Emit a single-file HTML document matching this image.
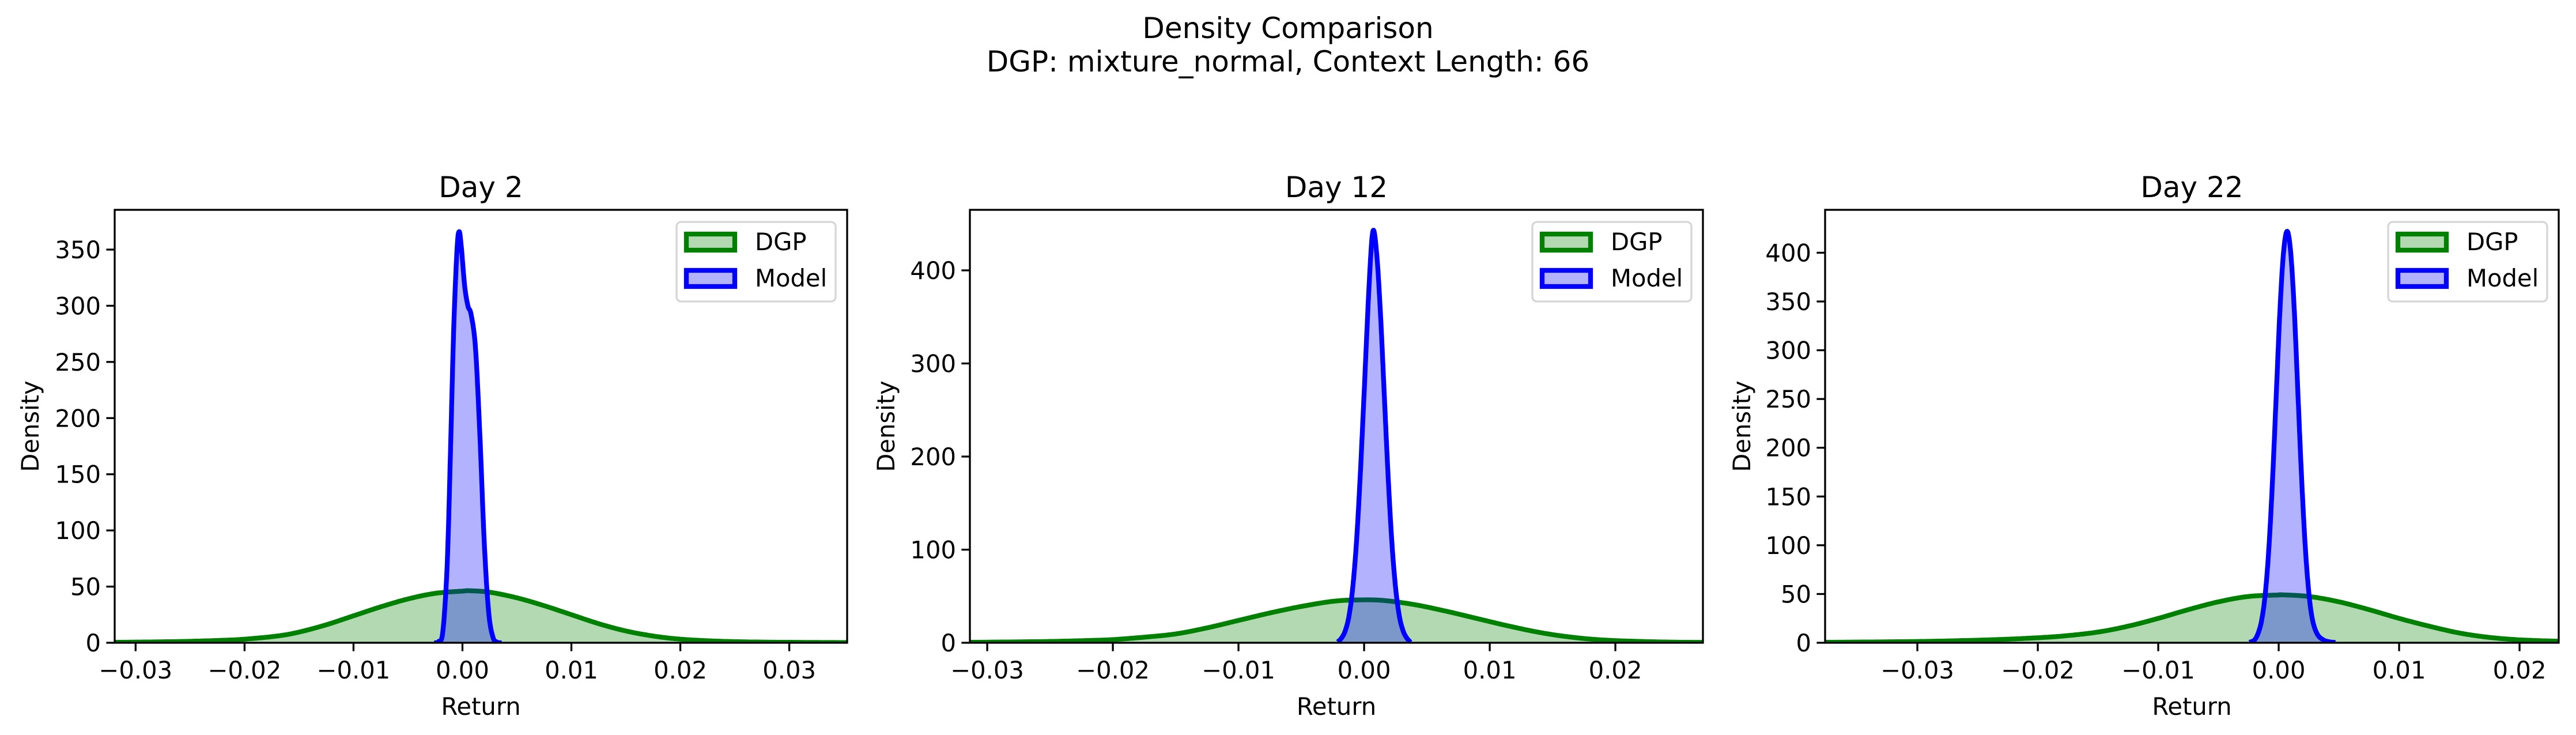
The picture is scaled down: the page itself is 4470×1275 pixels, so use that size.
<!DOCTYPE html>
<html><head><meta charset="utf-8">
<style>
html,body{margin:0;padding:0;background:#fff;}
svg{display:block;font-family:"DejaVu Sans","Liberation Sans",sans-serif;}
</style></head>
<body>
<svg id="fig" width="4470" height="1275" viewBox="0 0 4470 1275" xmlns="http://www.w3.org/2000/svg">
<rect width="4470" height="1275" fill="#fff"/>
<text x="2235" y="66" font-size="50" text-anchor="middle">Density Comparison</text>
<text x="2235" y="124" font-size="50" text-anchor="middle">DGP: mixture_normal, Context Length: 66</text>
</svg>
<script>
// ---- data ----
const panelTitles = ["Day 2", "Day 12", "Day 22"];
const dgpX1 = [-0.032,-0.028,-0.025,-0.022,-0.02,-0.017,-0.015,-0.0125,-0.01,-0.0075,-0.005,-0.0025,0,0.0007,0.0025,0.005,0.0075,0.01,0.0125,0.015,0.0175,0.02,0.023,0.026,0.03,0.0353];
const dgpY1 = [0.4,0.8,1.3,2.2,3.2,6,9.5,16,24,32,39,44,46,46.3,45,40,33,25,17,10.5,6,3.2,1.6,0.8,0.4,0.2];
const modelX1 = [-0.0026,-0.0022,-0.0018,-0.0014,-0.0011,-0.0008,-0.0005,-0.0003,-0.0001,0.0002,0.0005,0.0008,0.0012,0.0016,0.002,0.0024,0.0028,0.0032,0.0036];
const modelY1 = [0,1,10,70,170,280,350,366,352,318,300,292,262,185,90,28,5,0.5,0];
const dgpX2 = [-0.0314,-0.028,-0.025,-0.022,-0.02,-0.0175,-0.015,-0.0125,-0.01,-0.0075,-0.005,-0.0025,-0.0005,0.0015,0.004,0.0065,0.009,0.0115,0.014,0.0165,0.019,0.022,0.025,0.027];
const dgpY2 = [0.5,0.9,1.4,2.4,3.4,6,9.5,16,24,32,39,44.5,46,45.5,41,34,26,18,11,6,3,1.4,0.6,0.4];
const modelX2 = [-0.0021,-0.0018,-0.0015,-0.0012,-0.0009,-0.0006,-0.0003,0.0000,0.0004,0.0007,0.0010,0.0013,0.0016,0.0019,0.0022,0.0025,0.0028,0.0031,0.0034,0.0037];
const modelY2 = [1,5,13,29,60,110,182,268,385,442,418,354,268,182,110,60,29,13,5,0.5];
const dgpX3 = [-0.0377,-0.034,-0.03,-0.027,-0.024,-0.021,-0.018,-0.015,-0.0125,-0.01,-0.0075,-0.005,-0.0025,0,0.0002,0.0025,0.005,0.0075,0.01,0.0125,0.015,0.0175,0.02,0.0233];
const dgpY3 = [0.5,0.8,1.3,2,3,4.5,6.8,11,17,25,34,42,47.5,49,49.2,47.5,42,34,25,17,10,5.5,3,1.5];
const modelX3 = [-0.0024,-0.0020,-0.0017,-0.0014,-0.0011,-0.0008,-0.0005,-0.0002,0.0001,0.0004,0.0007,0.0010,0.0013,0.0016,0.0019,0.0022,0.0025,0.0028,0.0032,0.0037,0.0042,0.0047];
const modelY3 = [0.5,3,10,24,52,100,170,255,340,400,422,400,340,255,170,100,52,24,9,3,1,0.3];
const xTicks1 = [-0.03,-0.02,-0.01,0,0.01,0.02,0.03];
const xTicks2 = [-0.03,-0.02,-0.01,0,0.01,0.02];
const xTicks3 = [-0.03,-0.02,-0.01,0,0.01,0.02];
const yTicks1 = [0,50,100,150,200,250,300,350];
const yTicks2 = [0,100,200,300,400];
const yTicks3 = [0,50,100,150,200,250,300,350,400];
const xDomains = [[-0.03192,0.03531],[-0.03138,0.02697],[-0.03766,0.02325]];
const yMaxes = [385.4,465,444];

// ---- drawing ----
const NS="http://www.w3.org/2000/svg";
const svg=document.getElementById('fig');
function mk(tag,attrs,parent){const e=document.createElementNS(NS,tag);for(const k in attrs)e.setAttribute(k,attrs[k]);(parent||svg).appendChild(e);return e;}
const boxes=[[199,1470],[1683,2955],[3167,4440]];
const TOP=364,BOT=1115;
const series=[[dgpX1,dgpY1,modelX1,modelY1,xTicks1,yTicks1],[dgpX2,dgpY2,modelX2,modelY2,xTicks2,yTicks2],[dgpX3,dgpY3,modelX3,modelY3,xTicks3,yTicks3]];
function fmtX(v){const s=Math.abs(v).toFixed(2);return (v< -1e-9?"\u22120":"0")+s.slice(1);}
function smooth(xs,ys){
  const pts=[];
  for(let i=0;i<xs.length-1;i++){
    const x0=xs[Math.max(0,i-1)],y0=ys[Math.max(0,i-1)],x1=xs[i],y1=ys[i],x2=xs[i+1],y2=ys[i+1],x3=xs[Math.min(xs.length-1,i+2)],y3=ys[Math.min(xs.length-1,i+2)];
    for(let t=0;t<1;t+=0.05){
      const t2=t*t,t3=t2*t;
      const f=(a,b,c,d)=>0.5*((2*b)+(-a+c)*t+(2*a-5*b+4*c-d)*t2+(-a+3*b-3*c+d)*t3);
      pts.push([f(x0,x1,x2,x3),Math.max(0,f(y0,y1,y2,y3))]);
    }
  }
  pts.push([xs[xs.length-1],ys[ys.length-1]]);
  return pts;
}
boxes.forEach((b,p)=>{
  const [L,R]=b;const [dx,dy,mx,my,xt,yt]=series[p];
  const [x0,x1]=xDomains[p];const ym=yMaxes[p];
  const sx=v=>L+(v-x0)/(x1-x0)*(R-L);
  const sy=v=>BOT-v/ym*(BOT-TOP);
  const g=mk('g',{});
  
  
  const cid='clip'+p;
  const cp=mk('clipPath',{id:cid},g);mk('rect',{x:L,y:TOP,width:R-L,height:BOT-TOP},cp);
  const plot=mk('g',{'clip-path':'url(#'+cid+')'},g);
  function area(xs,ys,fill,stroke,name){
    const pts=smooth(xs,ys);
    const line=pts.map((q,i)=>(i?'L':'M')+sx(q[0]).toFixed(1)+','+sy(q[1]).toFixed(1)).join('');
    const a=mk('path',{d:line+'L'+sx(pts[pts.length-1][0]).toFixed(1)+','+sy(0)+'L'+sx(pts[0][0]).toFixed(1)+','+sy(0)+'Z',fill:fill,stroke:'none'},plot);
    
    
    const l=mk('path',{d:line,fill:'none',stroke:stroke,'stroke-width':8.3,'stroke-linejoin':'round'},plot);
    
    
  }
  area(dx,dy,'rgba(0,128,0,0.3)','#008000','dgp-density');
  area(mx,my,'rgba(0,0,255,0.3)','#0000ff','model-density');
  // ticks
  xt.forEach(v=>{
    const X=sx(v);
    mk('line',{x1:X,y1:BOT,x2:X,y2:BOT+14.6,stroke:'#000','stroke-width':3.3},g);
    const t=mk('text',{x:X,y:BOT+62,'font-size':41.7,'text-anchor':'middle'},g);t.textContent=fmtX(v);
    
    
  });
  yt.forEach(v=>{
    const Y=sy(v);
    mk('line',{x1:L-14.6,y1:Y,x2:L,y2:Y,stroke:'#000','stroke-width':3.3},g);
    const t=mk('text',{x:L-24,y:Y+15,'font-size':41.7,'text-anchor':'end'},g);t.textContent=v;
    
    
  });
  mk('rect',{x:L,y:TOP,width:R-L,height:BOT-TOP,fill:'none',stroke:'#000','stroke-width':3.3},g);
  const tt=mk('text',{x:(L+R)/2,y:TOP-22,'font-size':50,'text-anchor':'middle'},g);tt.textContent=panelTitles[p];
  
  
  const xl=mk('text',{x:(L+R)/2,y:1240,'font-size':41.7,'text-anchor':'middle'},g);xl.textContent='Return';
  
  
  const lx=[53,1538,3023][p]+14;
  const yl=mk('text',{x:lx,y:(TOP+BOT)/2,'font-size':41.7,'text-anchor':'middle',transform:'rotate(-90 '+lx+' '+((TOP+BOT)/2)+')'},g);yl.textContent='Density';
  
  
  // legend
  const lg=mk('g',{},g);
  
  
  const LR=R-20;
  mk('rect',{x:LR-276,y:385,width:276,height:138,rx:8,fill:'#fff',stroke:'#d6d6d6','stroke-width':3.3},lg);
  [['DGP','rgba(0,128,0,0.3)','#008000',402],['Model','rgba(0,0,255,0.3)','#0000ff',465]].forEach(e=>{
    const r=mk('rect',{x:LR-259,y:e[3]+4,width:84,height:28,fill:e[1],stroke:e[2],'stroke-width':8.3},lg);
    
    
    const t=mk('text',{x:LR-140,y:e[3]+32,'font-size':41.7},lg);t.textContent=e[0];
    
    
  });
});
</script>
</body></html>
